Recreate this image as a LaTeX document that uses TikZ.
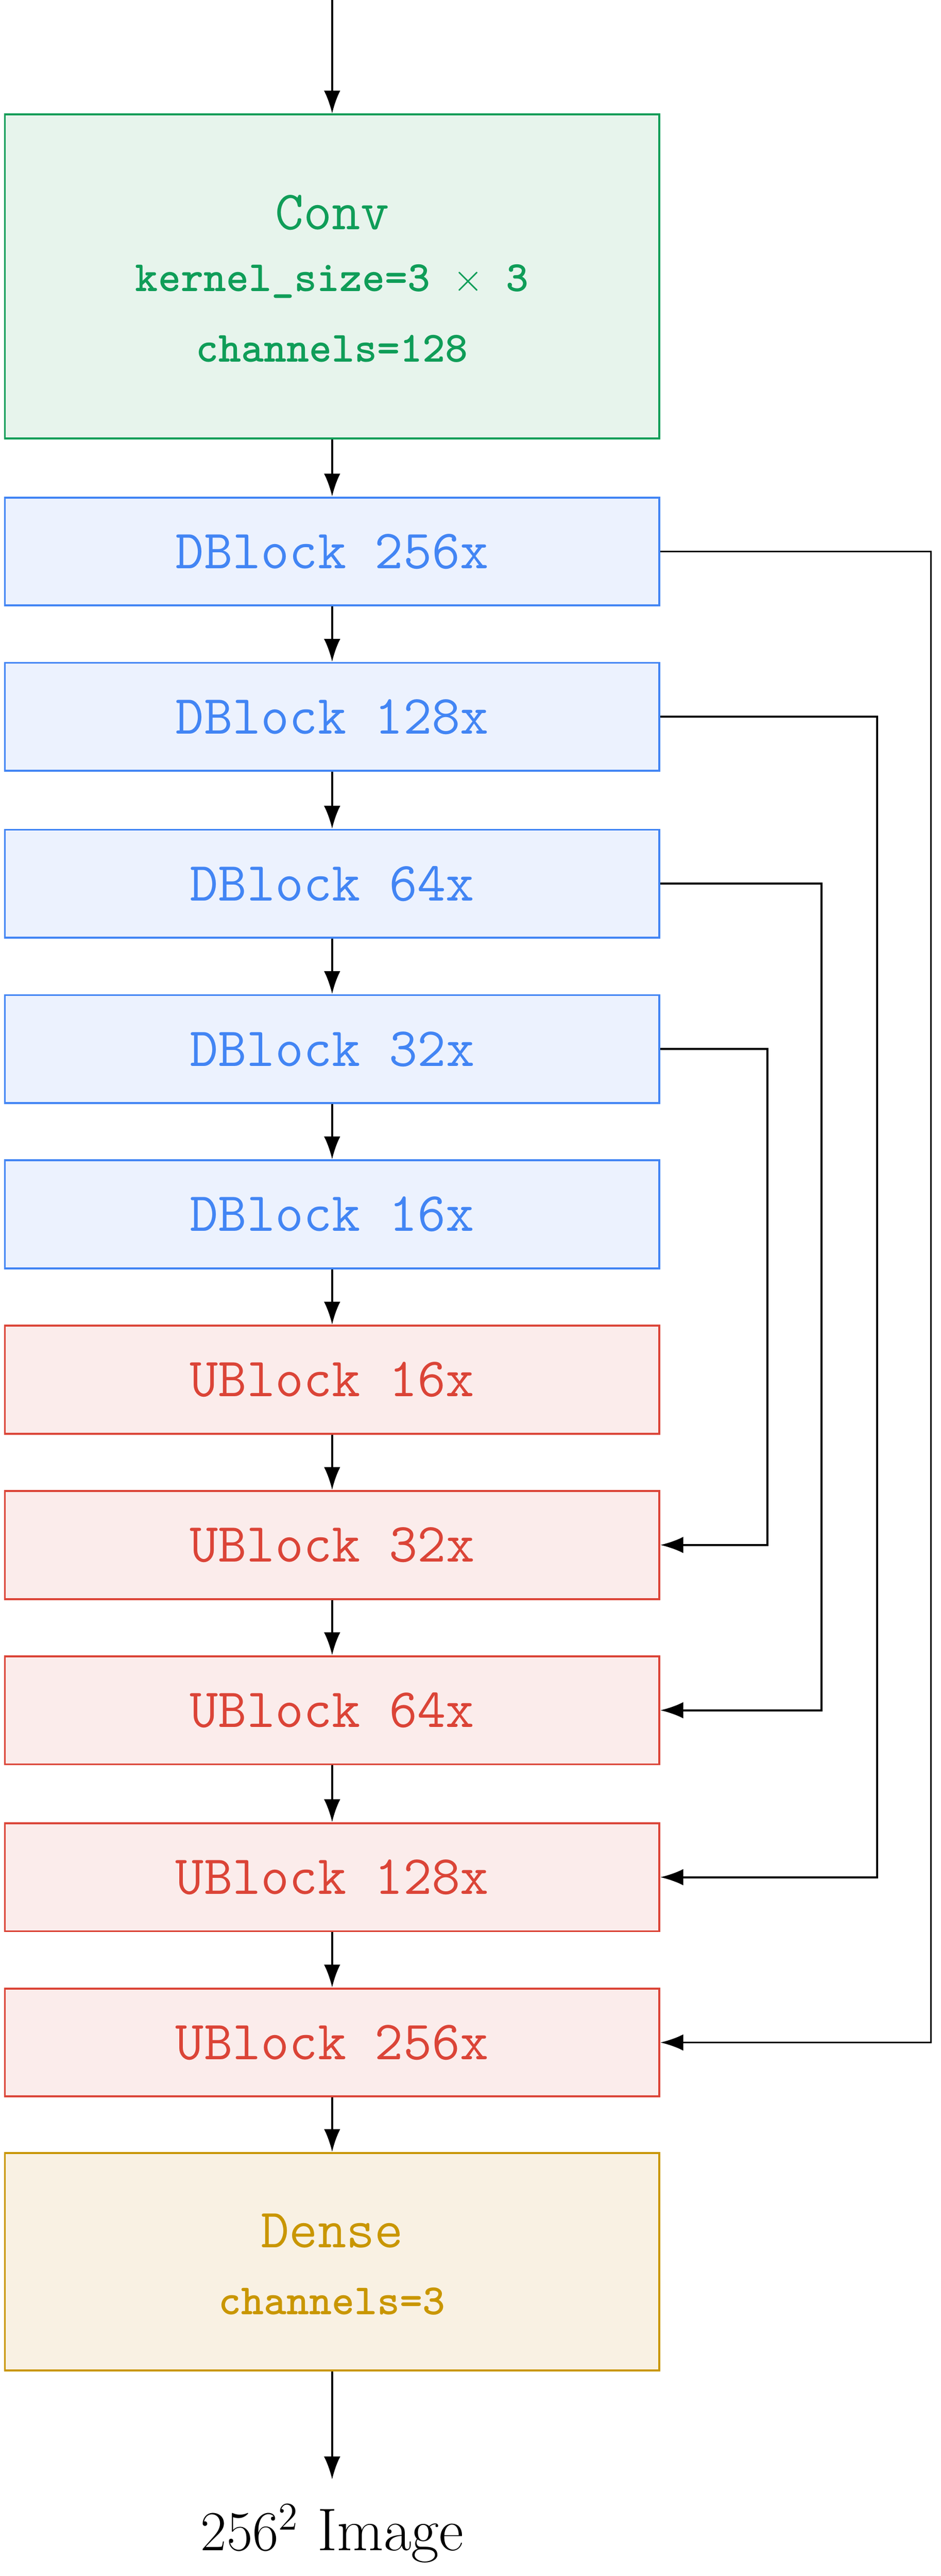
\documentclass[tikz,border=0pt]{standalone}
\usetikzlibrary{arrows.meta}
\definecolor{cg}{HTML}{0F9D58}\definecolor{cgf}{HTML}{E7F4EC}
\definecolor{cb}{HTML}{4285F4}\definecolor{cbf}{HTML}{ECF2FE}
\definecolor{cr}{HTML}{DB4437}\definecolor{crf}{HTML}{FBECEB}
\definecolor{cy}{HTML}{C99600}\definecolor{cyf}{HTML}{F9F1E3}
\begin{document}
\begin{tikzpicture}[x=0.5pt,y=-0.5pt,
 blk/.style={draw=#1,fill=#1f,text=#1,minimum width=200pt,minimum height=33pt,inner sep=0pt,font=\ttfamily\fontsize{16.9}{19}\selectfont,line width=0.6pt},
 arr/.style={-{Latex[length=7pt,width=5pt]},line width=0.6pt},
 sm/.style={font=\ttfamily\bfseries\fontsize{13.2}{15}\selectfont}]
\useasboundingbox (0,0) rectangle (575,1574);
\coordinate (top) at (203,0);
\node[blk=cg,minimum height=99pt] (conv) at (203,169) {};
\node[text=cg,font=\ttfamily\fontsize{16.9}{19}\selectfont] at (203,130) {Conv};
\node[text=cg,sm] at (203,172) {kernel\_size=3 $\times$ 3};
\node[text=cg,sm] at (203,213) {channels=128};
\node[blk=cb] (d256) at (203,337) {DBlock 256x};
\node[blk=cb] (d128) at (203,438) {DBlock 128x};
\node[blk=cb] (d64) at (203,540) {DBlock 64x};
\node[blk=cb] (d32) at (203,641) {DBlock 32x};
\node[blk=cb] (d16) at (203,742) {DBlock 16x};
\node[blk=cr] (u16) at (203,843) {UBlock 16x};
\node[blk=cr] (u32) at (203,944) {UBlock 32x};
\node[blk=cr] (u64) at (203,1045) {UBlock 64x};
\node[blk=cr] (u128) at (203,1147) {UBlock 128x};
\node[blk=cr] (u256) at (203,1248) {UBlock 256x};
\node[blk=cy,minimum height=66.5pt] (dense) at (203,1382) {};
\node[text=cy,font=\ttfamily\fontsize{16.9}{19}\selectfont] at (203,1363) {Dense};
\node[text=cy,sm] at (203,1406) {channels=3};
\node[font=\fontsize{18.4}{20}\selectfont,anchor=north,inner sep=0pt] (img) at (203,1530) {$256^2$ Image};
\draw[arr] (top) -- (conv);
\draw[arr] (conv) -- (d256);
\draw[arr] (d256) -- (d128);
\draw[arr] (d128) -- (d64);
\draw[arr] (d64) -- (d32);
\draw[arr] (d32) -- (d16);
\draw[arr] (d16) -- (u16);
\draw[arr] (u16) -- (u32);
\draw[arr] (u32) -- (u64);
\draw[arr] (u64) -- (u128);
\draw[arr] (u128) -- (u256);
\draw[arr] (u256) -- (dense);
\draw[arr] (dense) -- (203,1515);
\draw[arr] (d256.east) -- (569,337) |- (u256.east);
\draw[arr] (d128.east) -- (536,438) |- (u128.east);
\draw[arr] (d64.east) -- (502,540) |- (u64.east);
\draw[arr] (d32.east) -- (469,641) |- (u32.east);
\end{tikzpicture}
\end{document}
